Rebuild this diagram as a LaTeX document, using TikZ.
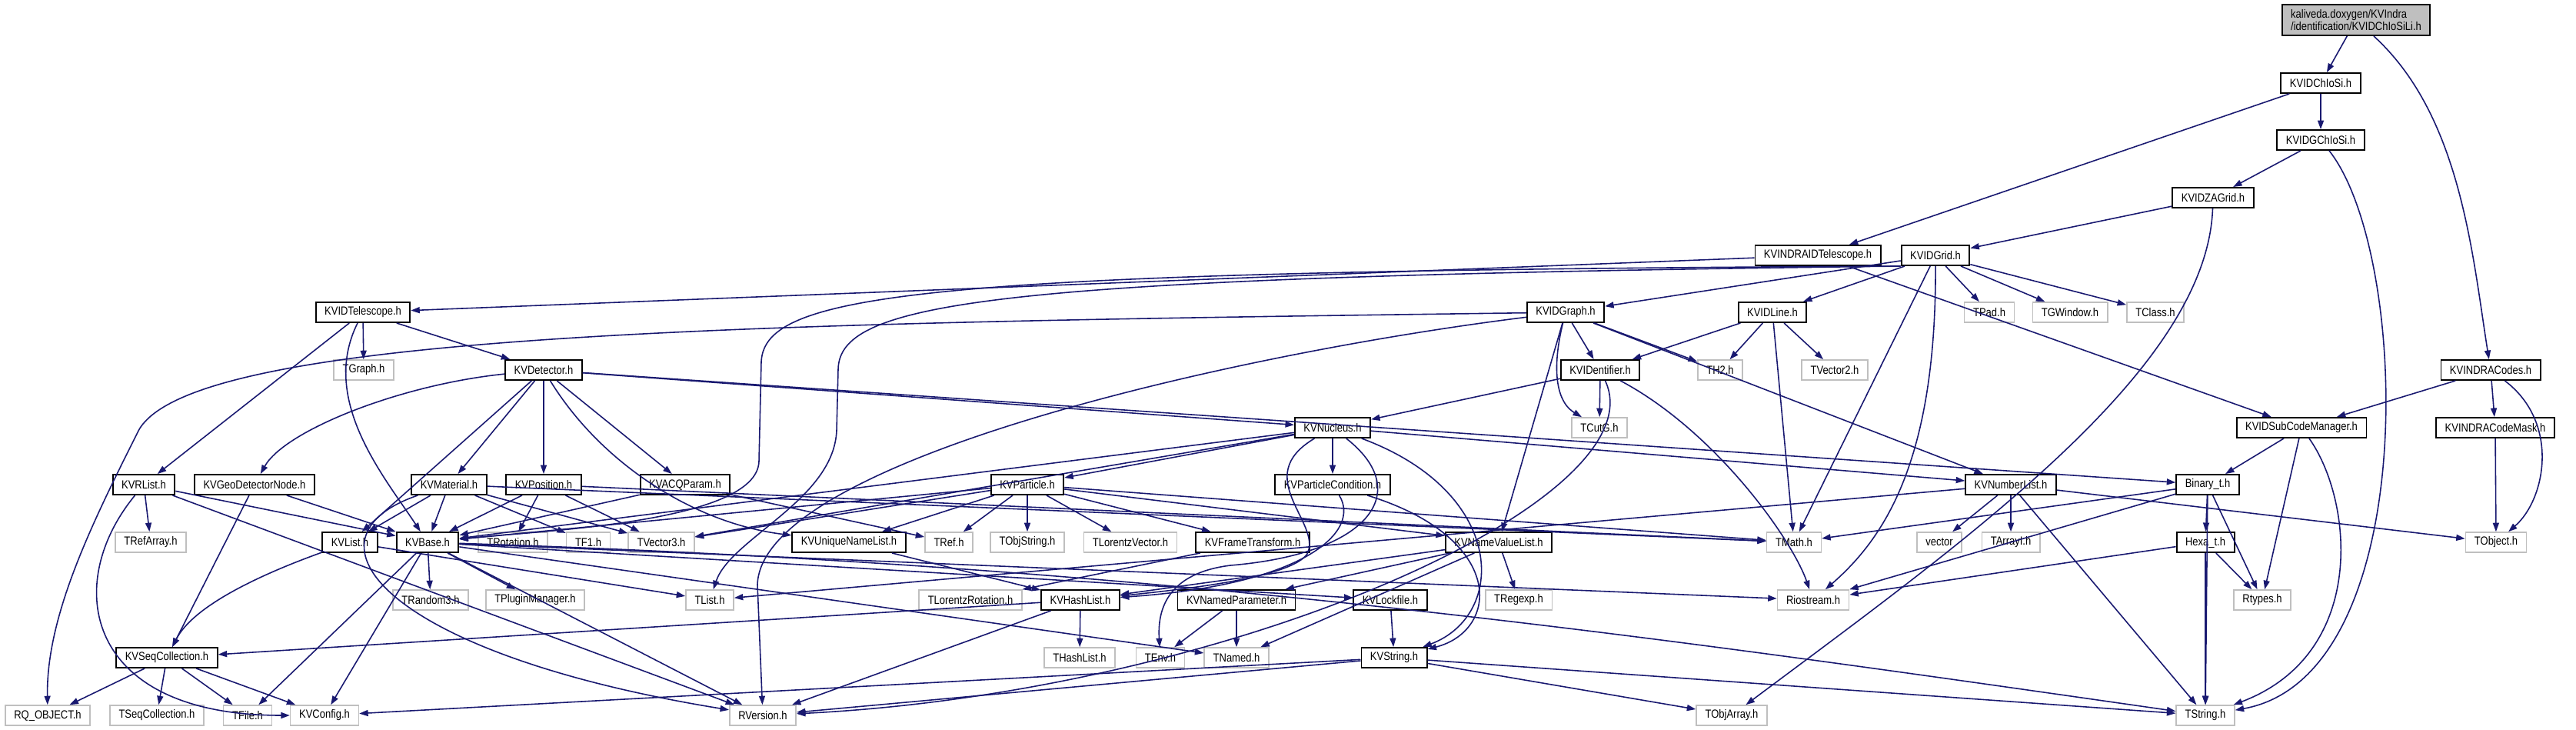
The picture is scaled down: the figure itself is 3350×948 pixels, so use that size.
\documentclass[tikz,border=0pt]{standalone}
\usepackage{fontspec}
\setmainfont{Liberation Sans}[FakeStretch=0.85]
\usetikzlibrary{arrows.meta}
\definecolor{edgeblue}{RGB}{25,25,112}
\definecolor{extgray}{RGB}{191,191,191}

\begin{document}
\begin{tikzpicture}[
    x=0.02cm, y=-0.02cm,
    box/.style={draw, minimum height=0.52cm, inner xsep=0.23cm, inner ysep=0pt, font=\fontsize{8.7}{9}\selectfont},
    doc/.style={box, draw=black, line width=1.1pt},
    ext/.style={box, draw=extgray, line width=0.9pt},
    edge/.style={draw=edgeblue, line width=0.9pt, -{Triangle[length=2.3mm,width=1.6mm]}}
  ]
  \useasboundingbox (0,0) rectangle (3350,948);
  % documented headers
  \node[doc, fill=extgray, align=left, minimum height=0.8cm] (root) at (3064,26) {kaliveda.doxygen/KVIndra\\/identification/KVIDChIoSiLi.h};
  \foreach \nm/\xx/\yy/\txt in {idchiosi/3018/108/KVIDChIoSi.h, idgchiosi/3018/182/KVIDGChIoSi.h,
      idzagrid/2878/257/KVIDZAGrid.h, indraidtel/2364/332/KVINDRAIDTelescope.h, idgrid/2517/332/KVIDGrid.h,
      idtel/472/406/KVIDTelescope.h, idgraph/2036/406/KVIDGraph.h, idline/2305/406/KVIDLine.h,
      detector/707/481/KVDetector.h, identifier/2081/481/KVIDentifier.h, indracodes/3239/481/KVINDRACodes.h,
      nucleus/1733/556/KVNucleus.h, subcode/2993/556/KVIDSubCodeManager.h, codemask/3245/556/KVINDRACodeMask.h,
      rlist/187/630/KVRList.h, geonode/331/630/KVGeoDetectorNode.h, material/584/630/KVMaterial.h,
      position/707/630/KVPosition.h, acqparam/891/630/KVACQParam.h, particle/1336/630/KVParticle.h,
      partcond/1733/630/KVParticleCondition.h, numberlist/2615/630/KVNumberList.h, binary/2871/630/Binary\_t.h,
      kvlist/455/705/KVList.h, kvbase/556/705/KVBase.h, uniquelist/1104/705/KVUniqueNameList.h,
      frametrans/1629/705/KVFrameTransform.h, namevaluelist/1949/705/KVNameValueList.h, hexa/2868/705/Hexa\_t.h,
      hashlist/1405/780/KVHashList.h, namedpar/1608/780/KVNamedParameter.h, lockfile/1808/780/KVLockfile.h,
      seqcoll/217/855/KVSeqCollection.h, kvstring/1813/855/KVString.h} {
    \node[doc] (\nm) at (\xx,\yy) {\txt};
  }
  % external headers
  \foreach \nm/\xx/\yy/\txt in {tgraph/473/481/TGraph.h, tpad/2587/406/TPad.h, tgwindow/2692/406/TGWindow.h,
      tclass/2803/406/TClass.h, th2/2237/481/TH2.h, tvector2/2386/481/TVector2.h, tcutg/2080/556/TCutG.h,
      trefarray/196/705/TRefArray.h, trotation/667/705/TRotation.h, tf1/765/705/TF1.h, tvector3/860/705/TVector3.h,
      tref/1234/705/TRef.h, tobjstring/1336/705/TObjString.h, tlorentzvector/1470/705/TLorentzVector.h,
      tmath/2333/705/TMath.h, vector/2522/705/vector, tarrayi/2615/705/TArrayI.h, tobject/3246/705/TObject.h,
      trandom/560/780/TRandom3.h, tplugin/696/780/TPluginManager.h, tlist/923/780/TList.h,
      tlorentzrot/1262/780/TLorentzRotation.h, tregexp/1975/780/TRegexp.h, riostream/2358/780/Riostream.h,
      rtypes/2942/780/Rtypes.h, thashlist/1404/855/THashList.h, tenv/1509/855/TEnv.h, tnamed/1608/855/TNamed.h,
      rqobject/62/930/RQ\_OBJECT.h, tseqcoll/204/930/TSeqCollection.h, tfile/322/930/TFile.h,
      kvconfig/422/930/KVConfig.h, rversion/992/930/RVersion.h, tobjarray/2252/930/TObjArray.h,
      tstring/2868/930/TString.h} {
    \node[ext] (\nm) at (\xx,\yy) {\txt};
  }
  % straight includes
  \foreach \a/\b in {root/idchiosi, idchiosi/indraidtel, idchiosi/idgchiosi, idgchiosi/idzagrid,
      idzagrid/idgrid, indraidtel/idtel, indraidtel/subcode, idgrid/idgraph, idgrid/idline, idgrid/tpad,
      idgrid/tgwindow, idgrid/tclass, idgrid/tmath, idtel/tgraph, idtel/detector, idtel/rlist,
      idgraph/identifier, idgraph/th2, idgraph/numberlist, idgraph/namevaluelist, idline/identifier,
      idline/th2, idline/tmath, idline/tvector2, detector/nucleus, detector/binary, detector/kvlist,
      detector/material, detector/position, detector/acqparam, identifier/nucleus, identifier/tcutg,
      indracodes/subcode, indracodes/codemask, codemask/tobject, subcode/binary, subcode/rtypes,
      nucleus/particle, nucleus/partcond, nucleus/kvbase, nucleus/tvector3, nucleus/numberlist,
      rlist/trefarray, rlist/kvbase, rlist/rversion, geonode/kvbase, geonode/seqcoll,
      material/kvlist, material/kvbase, material/tf1, material/tvector3, material/tmath,
      position/kvbase, position/trotation, position/tvector3, position/tmath, acqparam/kvbase, acqparam/tref,
      particle/kvbase, particle/tvector3, particle/uniquelist, particle/tref, particle/tobjstring,
      particle/tlorentzvector, particle/frametrans, particle/namevaluelist, particle/tmath,
      numberlist/vector, numberlist/tarrayi, numberlist/tstring, numberlist/tobject, numberlist/tlist,
      binary/tmath, binary/riostream, binary/hexa, binary/rtypes, binary/tstring,
      hexa/riostream, hexa/rtypes, hexa/tstring, kvlist/tlist,
      kvbase/trandom, kvbase/tplugin, kvbase/tfile, kvbase/kvconfig, kvbase/rversion, kvbase/riostream,
      kvbase/lockfile, kvbase/tnamed, uniquelist/hashlist, frametrans/tlorentzrot,
      namevaluelist/namedpar, namevaluelist/hashlist, namevaluelist/tregexp, namevaluelist/tnamed,
      hashlist/thashlist, hashlist/seqcoll, hashlist/rversion, namedpar/tenv, namedpar/tnamed,
      lockfile/kvstring, seqcoll/rqobject, seqcoll/tseqcoll, seqcoll/tfile, seqcoll/kvconfig,
      kvstring/kvconfig, kvstring/rversion, kvstring/tobjarray, kvstring/tstring} {
    \draw[edge] (\a) -- (\b);
  }
  % curved includes
  \draw[edge] (root) .. controls (3200,150) and (3215,330) .. (indracodes);
  \draw[edge] (idgchiosi) .. controls (3135,330) and (3150,880) .. (tstring);
  \draw[edge] (idzagrid) .. controls (2870,480) and (2560,700) .. (tobjarray);
  \draw[edge] (idgrid.south west) .. controls (1200,352) and (995,380) .. (990,470) -- (987,600) .. controls (984,680) and (700,690) .. (kvbase);
  \draw[edge] (idgrid.south west) .. controls (1300,360) and (1092,390) .. (1090,480) -- (1088,560) .. controls (1084,650) and (950,700) .. (tlist);
  \draw[edge] (idgrid) .. controls (2518,600) and (2450,700) .. (riostream);
  \draw[edge] (idgraph) .. controls (1000,420) and (250,430) .. (180,560) .. controls (120,680) and (60,800) .. (rqobject);
  \draw[edge] (idgraph) .. controls (1600,460) and (990,600) .. (985,760) -- (rversion);
  \draw[edge] (idgraph) .. controls (2020,470) and (2020,520) .. (tcutg);
  \draw[edge] (idtel) .. controls (415,520) and (500,620) .. (kvbase);
  \draw[edge] (detector) .. controls (520,500) and (370,560) .. (geonode);
  \draw[edge] (detector) .. controls (780,600) and (900,680) .. (uniquelist);
  \draw[edge] (identifier) .. controls (2160,650) and (1600,900) .. (rversion);
  \draw[edge] (identifier) .. controls (2230,560) and (2330,700) .. (riostream);
  \draw[edge] (indracodes) .. controls (3330,550) and (3310,650) .. (tobject);
  \draw[edge] (subcode) .. controls (3060,650) and (3080,850) .. (tstring);
  \draw[edge] (nucleus) .. controls (1625,620) and (1720,680) .. (1700,720) .. controls (1680,750) and (1550,765) .. (hashlist);
  \draw[edge] (nucleus) .. controls (1840,640) and (1780,720) .. (1600,735) .. controls (1520,745) and (1505,790) .. (tenv);
  \draw[edge] (nucleus) .. controls (1960,640) and (1960,800) .. (kvstring);
  \draw[edge] (partcond) .. controls (1770,690) and (1700,760) .. (hashlist);
  \draw[edge] (partcond) .. controls (1960,700) and (1950,820) .. (kvstring);
  \draw[edge] (rlist) .. controls (80,760) and (110,930) .. (kvconfig);
  \draw[edge] (material) .. controls (380,700) and (500,850) .. (rversion);
  \draw[edge] (kvlist) .. controls (330,750) and (250,790) .. (seqcoll);
  \draw[edge] (kvbase) .. controls (1500,735) and (2100,820) .. (tstring);
\end{tikzpicture}
\end{document}
